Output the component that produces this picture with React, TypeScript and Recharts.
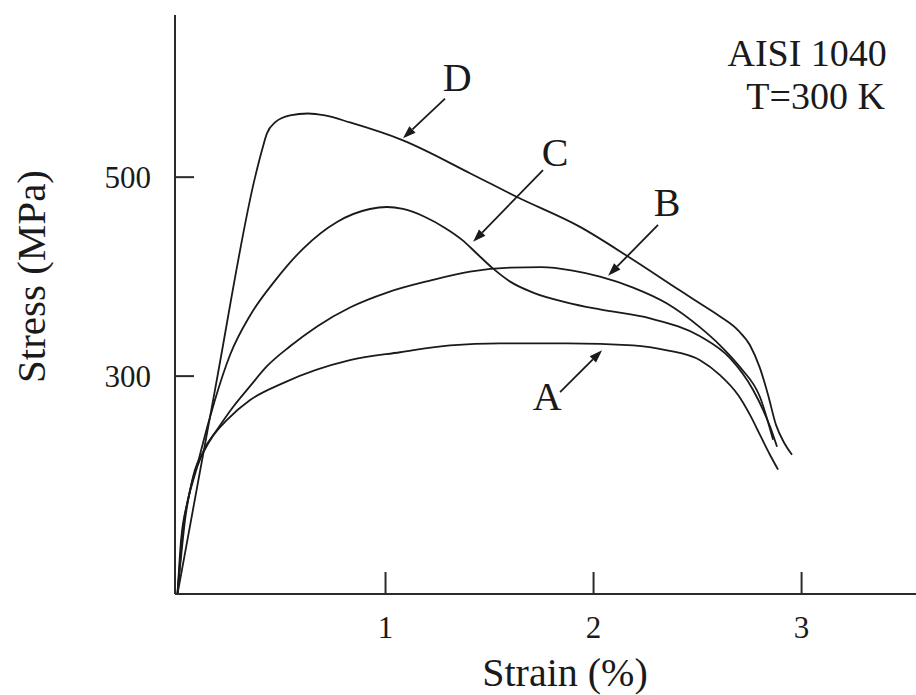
import React from "react";
import {
  LineChart,
  Line,
  XAxis,
  YAxis,
  ReferenceLine,
  ReferenceDot,
} from "recharts";

// ---- data (strain in %, stress in MPa) ----
const strainA = [0, 0.017, 0.05, 0.084, 0.123, 0.171, 0.238, 0.349, 0.507, 0.829, 1.07, 1.31, 1.55, 1.873, 2.19, 2.353, 2.512, 2.608, 2.695, 2.752, 2.8, 2.848, 2.887];
const stressA = [81, 135, 175, 206, 223, 240, 256, 276, 293, 316, 324, 331, 333, 333, 331, 326, 316, 301, 281, 261, 241, 221, 206];

const strainB = [0, 0.026, 0.075, 0.123, 0.19, 0.267, 0.349, 0.43, 0.541, 0.671, 0.829, 1.007, 1.214, 1.406, 1.6, 1.75, 1.9, 2.031, 2.19, 2.353, 2.512, 2.608, 2.704, 2.8, 2.863];
const stressB = [81, 145, 195, 224, 246, 269, 290, 310, 330, 350, 369, 384, 396, 405, 409, 409.5, 406, 400, 389, 373, 349, 331, 309, 279, 236];

const strainC = [0, 0.036, 0.108, 0.18, 0.252, 0.349, 0.469, 0.603, 0.767, 0.925, 1.007, 1.084, 1.19, 1.286, 1.368, 1.44, 1.512, 1.599, 1.709, 1.873, 2.031, 2.272, 2.512, 2.656, 2.767, 2.849, 2.882];
const stressC = [81, 155, 221, 276, 321, 361, 396, 428, 455, 468, 470, 468, 460, 449, 437, 423, 409, 395, 384, 374, 367, 358, 340, 318, 286, 249, 229];

const strainD = [0, 0.18, 0.373, 0.406, 0.43, 0.469, 0.541, 0.627, 0.709, 0.829, 1.084, 1.406, 1.632, 1.935, 2.175, 2.416, 2.512, 2.608, 2.695, 2.752, 2.8, 2.839, 2.877, 2.916, 2.954];
const stressD = [81, 286, 500, 527, 544, 555, 562, 564, 562, 555, 537, 504, 480, 450, 419, 386, 373, 360, 346, 331, 308, 281, 251, 233, 221];

const xTicks = [1, 2, 3];
const yTicks = [300, 500];
const xDomain = [-0.012, 3.55];
const yDomain = [81, 663];

// curve labels and arrows (data coordinates)
const curveLabels = [
  { name: "A", x: 1.777, y: 279 },
  { name: "B", x: 2.353, y: 474 },
  { name: "C", x: 1.815, y: 524 },
  { name: "D", x: 1.344, y: 600 },
];
const arrowTails = [
  { x: 1.839, y: 284 },
  { x: 2.31, y: 452 },
  { x: 1.757, y: 507 },
  { x: 1.286, y: 579 },
];
const arrowHeads = [
  { x: 2.041, y: 326 },
  { x: 2.07, y: 401 },
  { x: 1.421, y: 435 },
  { x: 1.084, y: 539 },
];
const noteLines = ["AISI 1040", "T=300 K"];
const notePos = { x: 3.41, y: 612 };

const zip = (xs: number[], ys: number[]) => xs.map((x, i) => ({ x, y: ys[i] }));
const series = [
  { key: "A", data: zip(strainA, stressA) },
  { key: "B", data: zip(strainB, stressB) },
  { key: "C", data: zip(strainC, stressC) },
  { key: "D", data: zip(strainD, stressD) },
];

const FONT = "'Liberation Serif', 'Times New Roman', serif";
const INK = "#1a1a1a";
const FRAME = "#2b2b2b";

const XTick = (p: any) => {
  const { x, y, payload } = p;
  return (
    <g>
      <line x1={x} y1={y} x2={x} y2={y - 22} stroke={FRAME} strokeWidth={2} />
      <text x={x} y={y + 44} textAnchor="middle" fontFamily={FONT} fontSize={31} fill={INK}>
        {payload.value}
      </text>
    </g>
  );
};

const YTick = (p: any) => {
  const { x, y, payload } = p;
  return (
    <g>
      <line x1={x} y1={y} x2={x + 19} y2={y} stroke={FRAME} strokeWidth={2} />
      <text x={x - 24} y={y + 11} textAnchor="end" fontFamily={FONT} fontSize={31} fill={INK}>
        {payload.value}
      </text>
    </g>
  );
};

const Arrow = (p: any) => {
  const { x1, y1, x2, y2 } = p;
  const ang = Math.atan2(y2 - y1, x2 - x1);
  const L = 13;
  const W = 4.5;
  const bx = x2 - L * Math.cos(ang);
  const by = y2 - L * Math.sin(ang);
  const pts = `${x2},${y2} ${bx + W * Math.sin(ang)},${by - W * Math.cos(ang)} ${bx - W * Math.sin(ang)},${by + W * Math.cos(ang)}`;
  return (
    <g>
      <line x1={x1} y1={y1} x2={bx} y2={by} stroke={INK} strokeWidth={1.8} />
      <polygon points={pts} fill={INK} />
    </g>
  );
};

const letterContent = (name: string) => (props: any) => {
  const vb = props.viewBox || {};
  const cx = (vb.x || 0) + (vb.width || 0) / 2;
  const cy = (vb.y || 0) + (vb.height || 0) / 2;
  return (
    <text x={cx} y={cy + 13} textAnchor="middle" fontFamily={FONT} fontSize={40} fill={INK}>
      {name}
    </text>
  );
};

const noteContent = (props: any) => {
  const vb = props.viewBox || {};
  const cx = (vb.x || 0) + (vb.width || 0) / 2;
  const cy = (vb.y || 0) + (vb.height || 0) / 2;
  return (
    <g>
      {noteLines.map((t, i) => (
        <text key={t} x={cx - i * 2} y={cy + i * 43} textAnchor="end" fontFamily={FONT} fontSize={38} fill={INK}>
          {t}
        </text>
      ))}
    </g>
  );
};

const yLabel = (props: any) => {
  const vb = props.viewBox || {};
  const x = (vb.x || 0) + 37;
  const y = (vb.y || 0) + (vb.height || 0) / 2 - 28;
  return (
    <text x={x} y={y} transform={`rotate(-90, ${x}, ${y})`} textAnchor="middle" fontFamily={FONT} fontSize={41} fill={INK}>
      Stress (MPa)
    </text>
  );
};

const xLabel = (props: any) => {
  const vb = props.viewBox || {};
  const x = (vb.x || 0) + 390;
  const y = (vb.y || 0) + 92;
  return (
    <text x={x} y={y} textAnchor="middle" fontFamily={FONT} fontSize={40} fill={INK}>
      Strain (%)
    </text>
  );
};

export default function App() {
  return (
    <div style={{ width: 908, height: 687 }}>
      <style>{`body{margin:8px 0 0 8px;}`}</style>
      <LineChart width={908} height={687} margin={{ top: 7, right: 0, bottom: 0, left: 0 }}>
        <XAxis
          xAxisId="bottom"
          type="number"
          dataKey="x"
          domain={xDomain}
          allowDataOverflow
          ticks={xTicks}
          tickSize={0}
          tickMargin={0}
          tickLine={false}
          tick={<XTick />}
          height={101}
          axisLine={{ stroke: FRAME, strokeWidth: 2 }}
          label={xLabel}
        />
        <XAxis
          xAxisId="top"
          orientation="top"
          type="number"
          dataKey="x"
          domain={xDomain}
          allowDataOverflow
          height={0}
          tick={false}
          tickLine={false}
          axisLine={{ stroke: FRAME, strokeWidth: 2 }}
        />
        <YAxis
          type="number"
          domain={yDomain}
          allowDataOverflow
          ticks={yTicks}
          width={167}
          tickSize={0}
          tickMargin={0}
          tickLine={false}
          tick={<YTick />}
          axisLine={{ stroke: FRAME, strokeWidth: 2 }}
          label={yLabel}
        />
        {series.map((s) => (
          <Line
            key={s.key}
            xAxisId="bottom"
            data={s.data}
            dataKey="y"
            type="monotone"
            stroke={INK}
            strokeWidth={1.8}
            dot={false}
            activeDot={false}
            isAnimationActive={false}
          />
        ))}
        {arrowTails.map((t, i) => (
          <ReferenceLine
            key={"arr" + i}
            xAxisId="bottom"
            segment={[t, arrowHeads[i]]}
            shape={Arrow}
            ifOverflow="visible"
          />
        ))}
        {curveLabels.map((l) => (
          <ReferenceDot
            key={"lab" + l.name}
            xAxisId="bottom"
            x={l.x}
            y={l.y}
            r={0}
            fill="none"
            stroke="none"
            ifOverflow="visible"
            label={letterContent(l.name)}
          />
        ))}
        <ReferenceDot
          xAxisId="bottom"
          x={notePos.x}
          y={notePos.y}
          r={0}
          fill="none"
          stroke="none"
          ifOverflow="visible"
          label={noteContent}
        />
      </LineChart>
    </div>
  );
}
